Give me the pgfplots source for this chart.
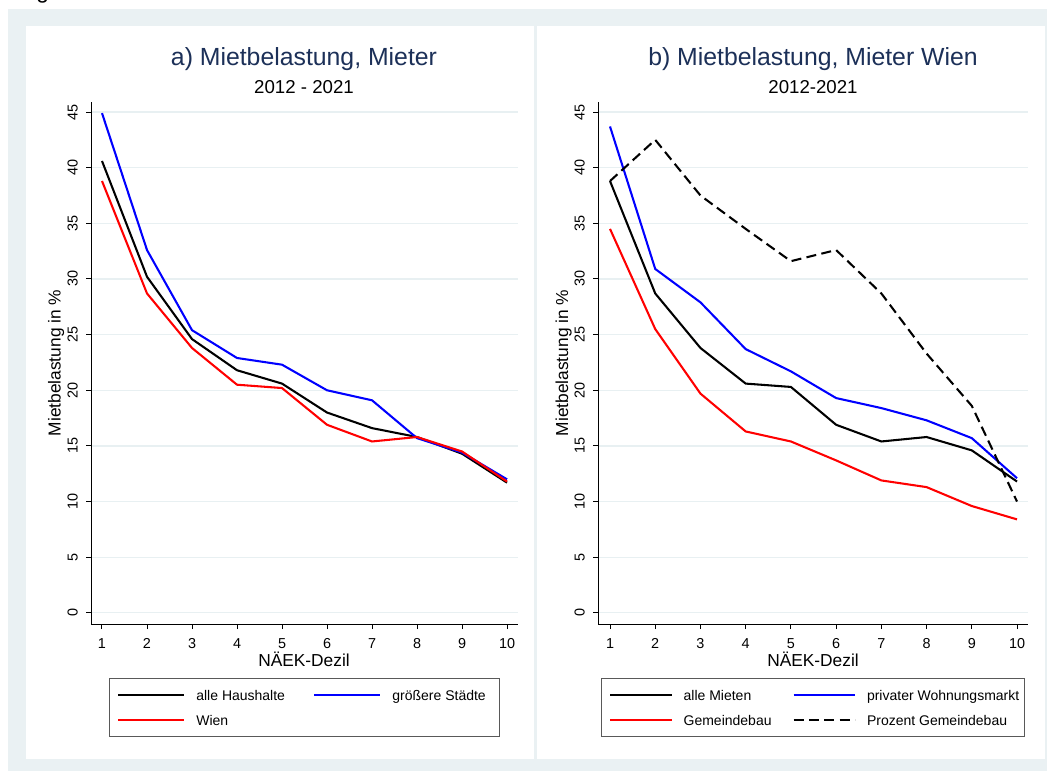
\documentclass[border=0pt]{standalone}
\usepackage{pgfplots}
\pgfplotsset{compat=1.18}
\usepackage{pgfplotstable}
\usepackage{fontspec}
\setmainfont{Liberation Sans}
\definecolor{bgc}{RGB}{234,241,243}
\definecolor{gridc}{RGB}{232,240,242}
\definecolor{titc}{RGB}{28,48,88}
\definecolor{sblue}{RGB}{0,0,255}
\definecolor{sred}{RGB}{255,0,0}

\pgfplotstableread{
x alle staedte wien
1 40.6 44.9 38.8
2 30.2 32.6 28.7
3 24.6 25.4 23.8
4 21.8 22.9 20.5
5 20.6 22.3 20.2
6 18.0 20.0 16.9
7 16.6 19.1 15.4
8 15.8 15.7 15.8
9 14.3 14.4 14.5
10 11.7 12.0 11.8
}\tabA

\pgfplotstableread{
x alle priv gem proz
1 38.8 43.7 34.5 38.8
2 28.7 30.9 25.5 42.5
3 23.8 27.9 19.7 37.5
4 20.6 23.7 16.3 34.5
5 20.3 21.7 15.4 31.6
6 16.9 19.3 13.7 32.6
7 15.4 18.4 11.9 28.7
8 15.8 17.3 11.3 23.3
9 14.6 15.7 9.6 18.6
10 11.8 12.1 8.4 10.0
}\tabB

\pgfplotsset{
  stata/.style={
    scale only axis, height=391.5pt,
    ymin=-1, ymax=45.9,
    axis x line*=bottom, axis y line*=left,
    axis line style={black, line width=0.75pt},
    xtick={1,...,10}, ytick={0,5,...,45},
    tick align=outside, major tick length=3.75pt,
    every tick/.style={black, line width=0.75pt},
    ymajorgrids, major grid style={gridc, line width=0.9pt},
    /pgf/number format/assume math mode=true,
    ticklabel style={font=\fontsize{10.8}{12}\selectfont, inner sep=0pt},
    yticklabel style={rotate=90, anchor=south},
    xticklabel style={anchor=north},
    xticklabel shift=7.2pt, yticklabel shift=6pt,
    legend cell align=left,
    legend style={draw=black!65, line width=0.75pt, fill=white, anchor=center,
      at={(0.5,-0.16)}, legend columns=2, inner xsep=5.5pt, inner ysep=5.8pt, row sep=6.25pt,
      nodes={inner sep=0pt, text height=10pt, text depth=2.5pt, font=\fontsize{10.5}{12}\selectfont},
      /tikz/every odd column/.append style={column sep=8.25pt}},
  },
  dat/.style={line width=1.55pt},
}

\begin{document}
\begin{tikzpicture}
\begin{scope}[x=0.75pt,y=-0.75pt]
\useasboundingbox (0,0) rectangle (1047,771);
\fill[white] (0,0) rectangle (1047,771);
\fill[bgc] (8,9) rectangle (1047,771);
\fill[white] (26,26) rectangle (1045,759);
\fill[bgc] (534,26) rectangle (537,759);
\node[anchor=base west, inner sep=0pt, font=\fontsize{17}{20}\selectfont] at (36,-2) {g};
% titles
\node[anchor=base, inner sep=0pt, text=titc, font=\fontsize{18.6}{22}\selectfont] at (304,65.5) {a) Mietbelastung, Mieter};
\node[anchor=base, inner sep=0pt, font=\fontsize{14}{17}\selectfont] at (304,93) {2012 - 2021};
\node[anchor=base, inner sep=0pt, text=titc, font=\fontsize{18.6}{22}\selectfont] at (813,65.5) {b) Mietbelastung, Mieter Wien};
\node[anchor=base, inner sep=0pt, font=\fontsize{14}{17}\selectfont] at (813,93) {2012-2021};
% axis labels
\node[rotate=90, anchor=base, inner sep=0pt, font=\fontsize{13}{15}\selectfont] at (60.7,363) {Mietbelastung in \%};
\node[rotate=90, anchor=base, inner sep=0pt, font=\fontsize{13}{15}\selectfont] at (568,363) {Mietbelastung in \%};
\node[anchor=base, inner sep=0pt, font=\fontsize{13}{15}\selectfont] at (304,666) {NÄEK-Dezil};
\node[anchor=base, inner sep=0pt, font=\fontsize{13}{15}\selectfont] at (813,666) {NÄEK-Dezil};
\end{scope}

\begin{axis}[stata, at={(68.25pt,-468pt)}, anchor=south west, width=320.25pt,
  xmin=0.7556, xmax=10.244,
  legend image code/.code={\draw[#1] (0pt,0pt) -- (49.5pt,0pt);}]
\addplot[dat, black] table[x=x, y=alle] {\tabA};
\addlegendentry{\makebox[87.75pt][l]{alle Haushalte}}
\addplot[dat, sblue] table[x=x, y=staedte] {\tabA};
\addlegendentry{\makebox[74.5pt][l]{größere Städte}}
\addplot[dat, sred] table[x=x, y=wien] {\tabA};
\addlegendentry{\makebox[87.75pt][l]{Wien}}
\end{axis}

\begin{axis}[stata, at={(448.5pt,-468pt)}, anchor=south west, width=322.5pt,
  xmin=0.7345, xmax=10.243,
  legend image code/.code={\draw[#1] (0pt,0pt) -- (46pt,0pt);}]
\addplot[dat, black] table[x=x, y=alle] {\tabB};
\addlegendentry{\makebox[81.75pt][l]{alle Mieten}}
\addplot[dat, sblue] table[x=x, y=priv] {\tabB};
\addlegendentry{\makebox[112.3pt][l]{privater Wohnungsmarkt}}
\addplot[dat, sred] table[x=x, y=gem] {\tabB};
\addlegendentry{\makebox[81.75pt][l]{Gemeindebau}}
\addplot[dat, black, dash pattern=on 7.5pt off 4pt] table[x=x, y=proz] {\tabB};
\addlegendentry{\makebox[112.3pt][l]{Prozent Gemeindebau}}
\end{axis}
\end{tikzpicture}
\end{document}
